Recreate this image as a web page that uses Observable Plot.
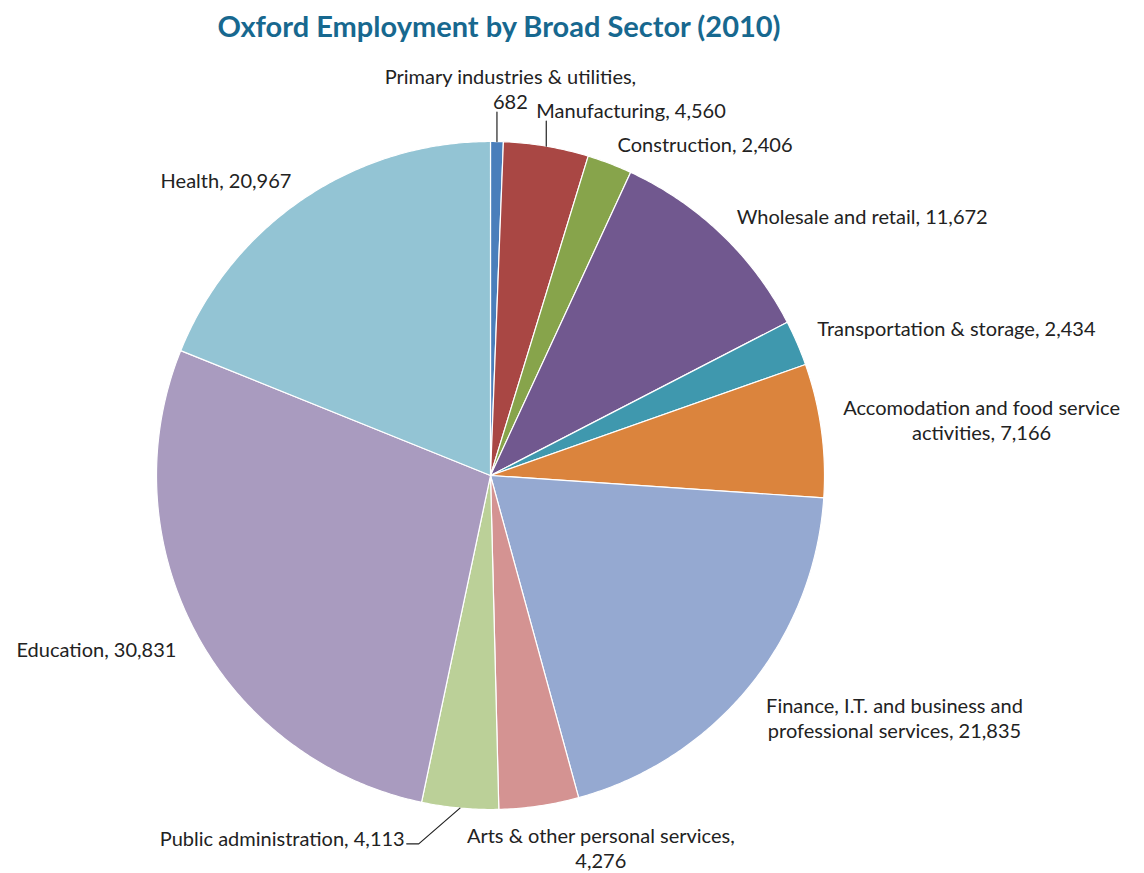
<!DOCTYPE html>
<html><head><meta charset="utf-8">
<script src="https://cdn.jsdelivr.net/npm/d3@7"></script>
<script src="https://cdn.jsdelivr.net/npm/@observablehq/plot@0.6"></script>
<style>
body{margin:0;background:#fff;}
#wrap{position:relative;width:1144px;height:873px;}
#title{position:absolute;z-index:2;top:8px;left:0;width:998px;text-align:center;font:bold 29px Lato, sans-serif;color:#17688f;}
</style></head><body>
<div id="wrap"><div id="title">Oxford Employment by Broad Sector (2010)</div></div>
<script>
const sectors = [
  "Primary industries & utilities",
  "Manufacturing",
  "Construction",
  "Wholesale and retail",
  "Transportation & storage",
  "Accomodation and food service activities",
  "Finance, I.T. and business and professional services",
  "Arts & other personal services",
  "Public administration",
  "Education",
  "Health"
];
const employment = [682, 4560, 2406, 11672, 2434, 7166, 21835, 4276, 4113, 30831, 20967];
const colors = ["#4a7ebb", "#a94744", "#87a44b", "#71588f", "#3f98ae", "#db843d",
                "#95a9d1", "#d49392", "#bbd098", "#a99bbf", "#93c4d4"];

const W = 1144, H = 873, cx = 490, cy = 475, R = 334;
const FS = 20, FAMILY = "Lato, sans-serif", LH = 1.25;

const arcs = d3.pie().sort(null).value(d => d)(employment);

// slice outlines
const slicePts = [];
arcs.forEach((p, i) => {
  slicePts.push({k: i, x: cx, y: cy});
  const n = Math.max(2, Math.ceil((p.endAngle - p.startAngle) / (Math.PI / 360)));
  for (let j = 0; j <= n; j++) {
    const a = p.startAngle + (p.endAngle - p.startAngle) * j / n;
    slicePts.push({k: i, x: cx + R * Math.sin(a), y: cy - R * Math.cos(a)});
  }
});

// label layout
const ctx = document.createElement("canvas").getContext("2d");
ctx.font = `${FS}px Lato`;
function wrap(text, maxW) {
  const words = text.split(" "), lines = [];
  let cur = "";
  for (const w of words) {
    const t = cur ? cur + " " + w : w;
    if (ctx.measureText(t).width > maxW && cur) { lines.push(cur); cur = w; } else cur = t;
  }
  lines.push(cur);
  return lines;
}
const clamp = v => Math.max(-1, Math.min(1, v));
const GAPX = 22, K = 3, PAD = 4, PUSHY = 10, PUSHX = 62, LINEH = FS * 1.2;
const labels = arcs.map((p, i) => {
  const a = (p.startAngle + p.endAngle) / 2, s = Math.sin(a), c = Math.cos(a);
  const full = `${sectors[i]}, ${d3.format(",")(employment[i])}`;
  const lines = wrap(full, Math.abs(s) < 0.3 ? 280 : 310);
  const lw = lines.map(t => ctx.measureText(t).width);
  const w = d3.max(lw);
  const h = (lines.length - 1) * FS * LH + LINEH;
  const gapY = c < 0 ? 8 + 10 * c ** 4 : 8;
  const px = cx + (R + GAPX) * s, py = cy - (R + gapY) * c;
  const x = px + w / 2 * clamp(s * K), y = py - h / 2 * clamp(c * K);
  return {i, s, c, text: lines.join("\n"), lw, w, h, x, y, x0: x, y0: y,
          ax: cx + R * s, ay: cy - R * c};
});
const box = l => ({l: l.x - l.w / 2, r: l.x + l.w / 2, t: l.y - l.h / 2, b: l.y + l.h / 2});
const lineBoxes = l => l.lw.map((w, j) => {
  const yc = l.y + (j - (l.lw.length - 1) / 2) * FS * LH;
  return {l: l.x - w / 2, r: l.x + w / 2, t: yc - LINEH / 2, b: yc + LINEH / 2};
});
const ov = (A, B) => A.l < B.r + PAD && B.l < A.r + PAD && A.t < B.b + PAD && B.t < A.b + PAD;
const hits = (l, o) => {
  const res = [];
  for (const A of lineBoxes(l)) for (const B of lineBoxes(o)) if (ov(A, B)) res.push([A, B]);
  return res;
};
const placed = [];
[...labels].sort((a, b) => Math.abs(b.s) - Math.abs(a.s)).forEach(l => {
  for (let it = 0; it < 30; it++) {
    let found = null, pairs = null;
    for (const o of placed) { const hp = hits(l, o); if (hp.length) { found = o; pairs = hp; break; } }
    if (!found) break;
    if (l.c < -0.7) {
      const o = box(found);
      if (l.s < 0) l.x = o.l - PUSHX - l.w / 2; else l.x = o.r + PUSHX + l.w / 2;
    } else if (l.c > 0) {
      l.y += d3.min(pairs, ([A, B]) => (B.t - PUSHY) - A.b);
      l.x = l.ax + clamp(l.s * 6) * (l.w / 2 - 10);
    } else {
      l.y += d3.max(pairs, ([A, B]) => (B.b + PUSHY) - A.t);
    }
  }
  placed.push(l);
});

// leader lines for displaced labels
const leaders = [];
labels.forEach(l => {
  if (Math.hypot(l.x - l.x0, l.y - l.y0) < 3) return;
  const lb = lineBoxes(l);
  const near = l.ay < l.y ? lb[0] : lb[lb.length - 1];
  const pts = [[l.ax, l.ay]];
  if (l.ax > near.l + 2 && l.ax < near.r - 2) {
    pts.push([l.ax, l.ay < l.y ? near.t + 1 : near.b - 1]);
  } else {
    const b = box(l), yy = l.y + FS * 0.3;
    if (b.r < l.ax) pts.push([b.r + 14, yy], [b.r + 2, yy]);
    else pts.push([b.l - 14, yy], [b.l - 2, yy]);
  }
  pts.forEach(([x, y]) => leaders.push({k: l.i, x, y}));
});

const chart = Plot.plot({
  width: W, height: H, margin: 0,
  x: {domain: [0, W], range: [0, W], axis: null},
  y: {domain: [0, H], range: [0, H], axis: null},
  color: {type: "identity"},
  style: {background: "transparent", fontFamily: FAMILY},
  marks: [
    Plot.line(slicePts, {x: "x", y: "y", z: "k", fill: d => colors[d.k], stroke: "white",
      strokeWidth: 1.2, strokeLinejoin: "round", curve: "linear-closed"}),
    Plot.line(leaders, {x: "x", y: "y", z: "k", stroke: "#222", strokeWidth: 1.2}),
    Plot.text(labels, {x: "x", y: "y", text: "text", textAnchor: "middle", lineAnchor: "middle",
      lineHeight: LH, fontSize: FS, fontFamily: FAMILY, fill: "#222"})
  ]
});
document.getElementById("wrap").prepend(chart);
</script>
</body></html>
